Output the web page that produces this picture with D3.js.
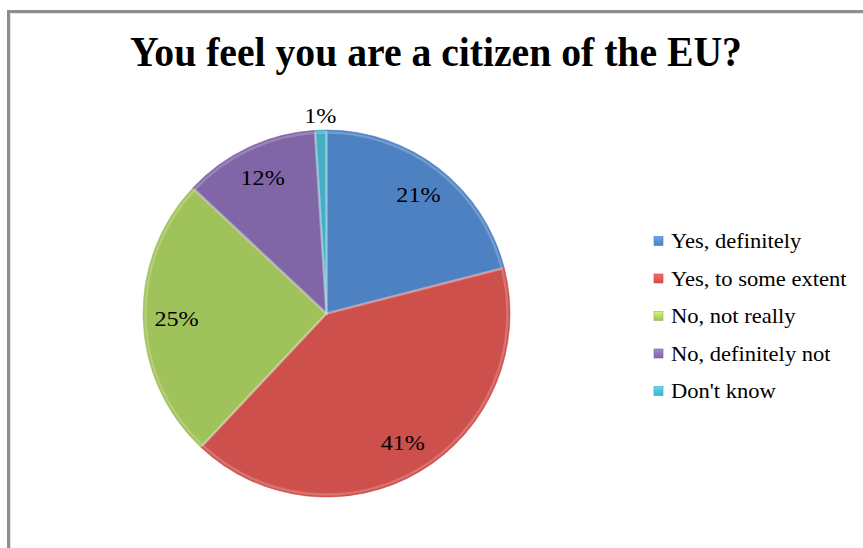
<!DOCTYPE html>
<html>
<head>
<meta charset="utf-8">
<script src="https://cdn.jsdelivr.net/npm/d3@7"></script>
<style>
  html, body { margin: 0; padding: 0; background: #fff; }
  svg { display: block; }
</style>
</head>
<body>
<svg id="chart" width="863" height="548"></svg>
<script>
const title = "You feel you are a citizen of the EU?";
const categories = ["Yes, definitely", "Yes, to some extent", "No, not really", "No, definitely not", "Don't know"];
const values = [21, 41, 25, 12, 1];
const labels = ["21%", "41%", "25%", "12%", "1%"];
const colors = ["#5790d8", "#e55955", "#b2d865", "#8f71b9", "#4fc0dc"];

const W = 863, H = 548;
const svg = d3.select("#chart");
const defs = svg.append("defs");

// frame lines (left and top)
svg.append("rect").attr("x", 7).attr("y", 10).attr("width", 3).attr("height", H - 10).attr("fill", "#8e8e8e");
svg.append("rect").attr("x", 7).attr("y", 10).attr("width", W - 7).attr("height", 3).attr("fill", "#8e8e8e");
svg.append("rect").attr("x", 10).attr("y", 13).attr("width", 1).attr("height", H - 13).attr("fill", "#e4e4e4");
svg.append("rect").attr("x", 10).attr("y", 13).attr("width", W - 10).attr("height", 1).attr("fill", "#e4e4e4");

// title
const t = svg.append("text")
  .attr("x", 0).attr("y", 0)
  .attr("text-anchor", "middle")
  .attr("font-family", "'Liberation Serif', 'Times New Roman', serif")
  .attr("font-weight", "bold")
  .attr("font-size", 43)
  .attr("fill", "#000")
  .text(title);
const tw = t.node().getComputedTextLength();
const targetW = 612;
t.attr("transform", `translate(436,65.5) scale(${targetW / tw},1)`);

// pie
const cx = 326.5, cy = 313.5, R = 183.5;
const pie = d3.pie().sort(null).value(d => d.v).startAngle(0).endAngle(2 * Math.PI);
const data = values.map((v, i) => ({ v, i, cat: categories[i], lab: labels[i], col: colors[i] }));
const arcs = pie(data);
const arc = d3.arc().innerRadius(0).outerRadius(R);

colors.forEach((c, i) => {
  const g = defs.append("radialGradient")
    .attr("id", "g" + i)
    .attr("gradientUnits", "userSpaceOnUse")
    .attr("cx", cx).attr("cy", cy).attr("r", R)
    .attr("fx", cx).attr("fy", cy);
  g.append("stop").attr("offset", "0%").attr("stop-color", d3.color(c).brighter(0.05));
  g.append("stop").attr("offset", "88%").attr("stop-color", c);
  g.append("stop").attr("offset", "100%").attr("stop-color", d3.color(c).darker(0.3));
  const lg = defs.append("linearGradient").attr("id", "lg" + i)
    .attr("x1", 0).attr("y1", 0).attr("x2", 0).attr("y2", 1);
  lg.append("stop").attr("offset", "0%").attr("stop-color", d3.color(c).brighter(0.4));
  lg.append("stop").attr("offset", "100%").attr("stop-color", d3.color(c).darker(0.3));
});

const pg = svg.append("g").attr("transform", `translate(${cx},${cy})`);
pg.selectAll("path.slice")
  .data(arcs)
  .join("path")
  .attr("class", "slice")
  .attr("d", arc)
  .attr("fill", d => `url(#g${d.data.i})`)
  .attr("stroke", d => d3.color(d.data.col).darker(0.25))
  .attr("stroke-width", 0.6)
  .attr("stroke-linejoin", "round");

// bevel highlight inside each slice
const innerArc = d3.arc().innerRadius(0).outerRadius(R - 2.5);
pg.selectAll("path.bevel")
  .data(arcs)
  .join("path")
  .attr("class", "bevel")
  .attr("d", innerArc)
  .attr("fill", "none")
  .attr("stroke", "#ffffff")
  .attr("stroke-opacity", 0.2)
  .attr("stroke-width", 2.5);

// labels
const labFont = "'Liberation Serif', 'Times New Roman', serif";
pg.selectAll("text.lab")
  .data(arcs)
  .join("text")
  .attr("class", "lab")
  .attr("text-anchor", "middle")
  .attr("dy", "0.35em")
  .attr("font-family", labFont)
  .attr("font-size", 21)
  .attr("fill", "#000")
  .attr("transform", d => {
    const a = (d.startAngle + d.endAngle) / 2;
    const r = (d.endAngle - d.startAngle) < 0.2 ? R + 14 : 150;
    return `translate(${r * Math.sin(a)},${-r * Math.cos(a)}) scale(1.15,1)`;
  })
  .text(d => d.data.lab);

// legend
const lg = svg.append("g");
const rows = lg.selectAll("g.row")
  .data(data)
  .join("g")
  .attr("class", "row")
  .attr("transform", (d, i) => `translate(654,${241 + i * 37.5})`);
rows.append("rect")
  .attr("x", 0).attr("y", -4.5).attr("width", 9).attr("height", 9)
  .attr("fill", d => `url(#lg${d.i})`)
  .attr("stroke", d => d3.color(d.col).darker(0.5))
  .attr("stroke-width", 0.6);
rows.append("text")
  .attr("x", 0).attr("y", 0)
  .attr("dy", "0.35em")
  .attr("font-family", labFont)
  .attr("font-size", 20.5)
  .attr("fill", "#000")
  .attr("transform", "translate(17,0) scale(1.1,1)")
  .text(d => d.cat);
</script>
</body>
</html>
